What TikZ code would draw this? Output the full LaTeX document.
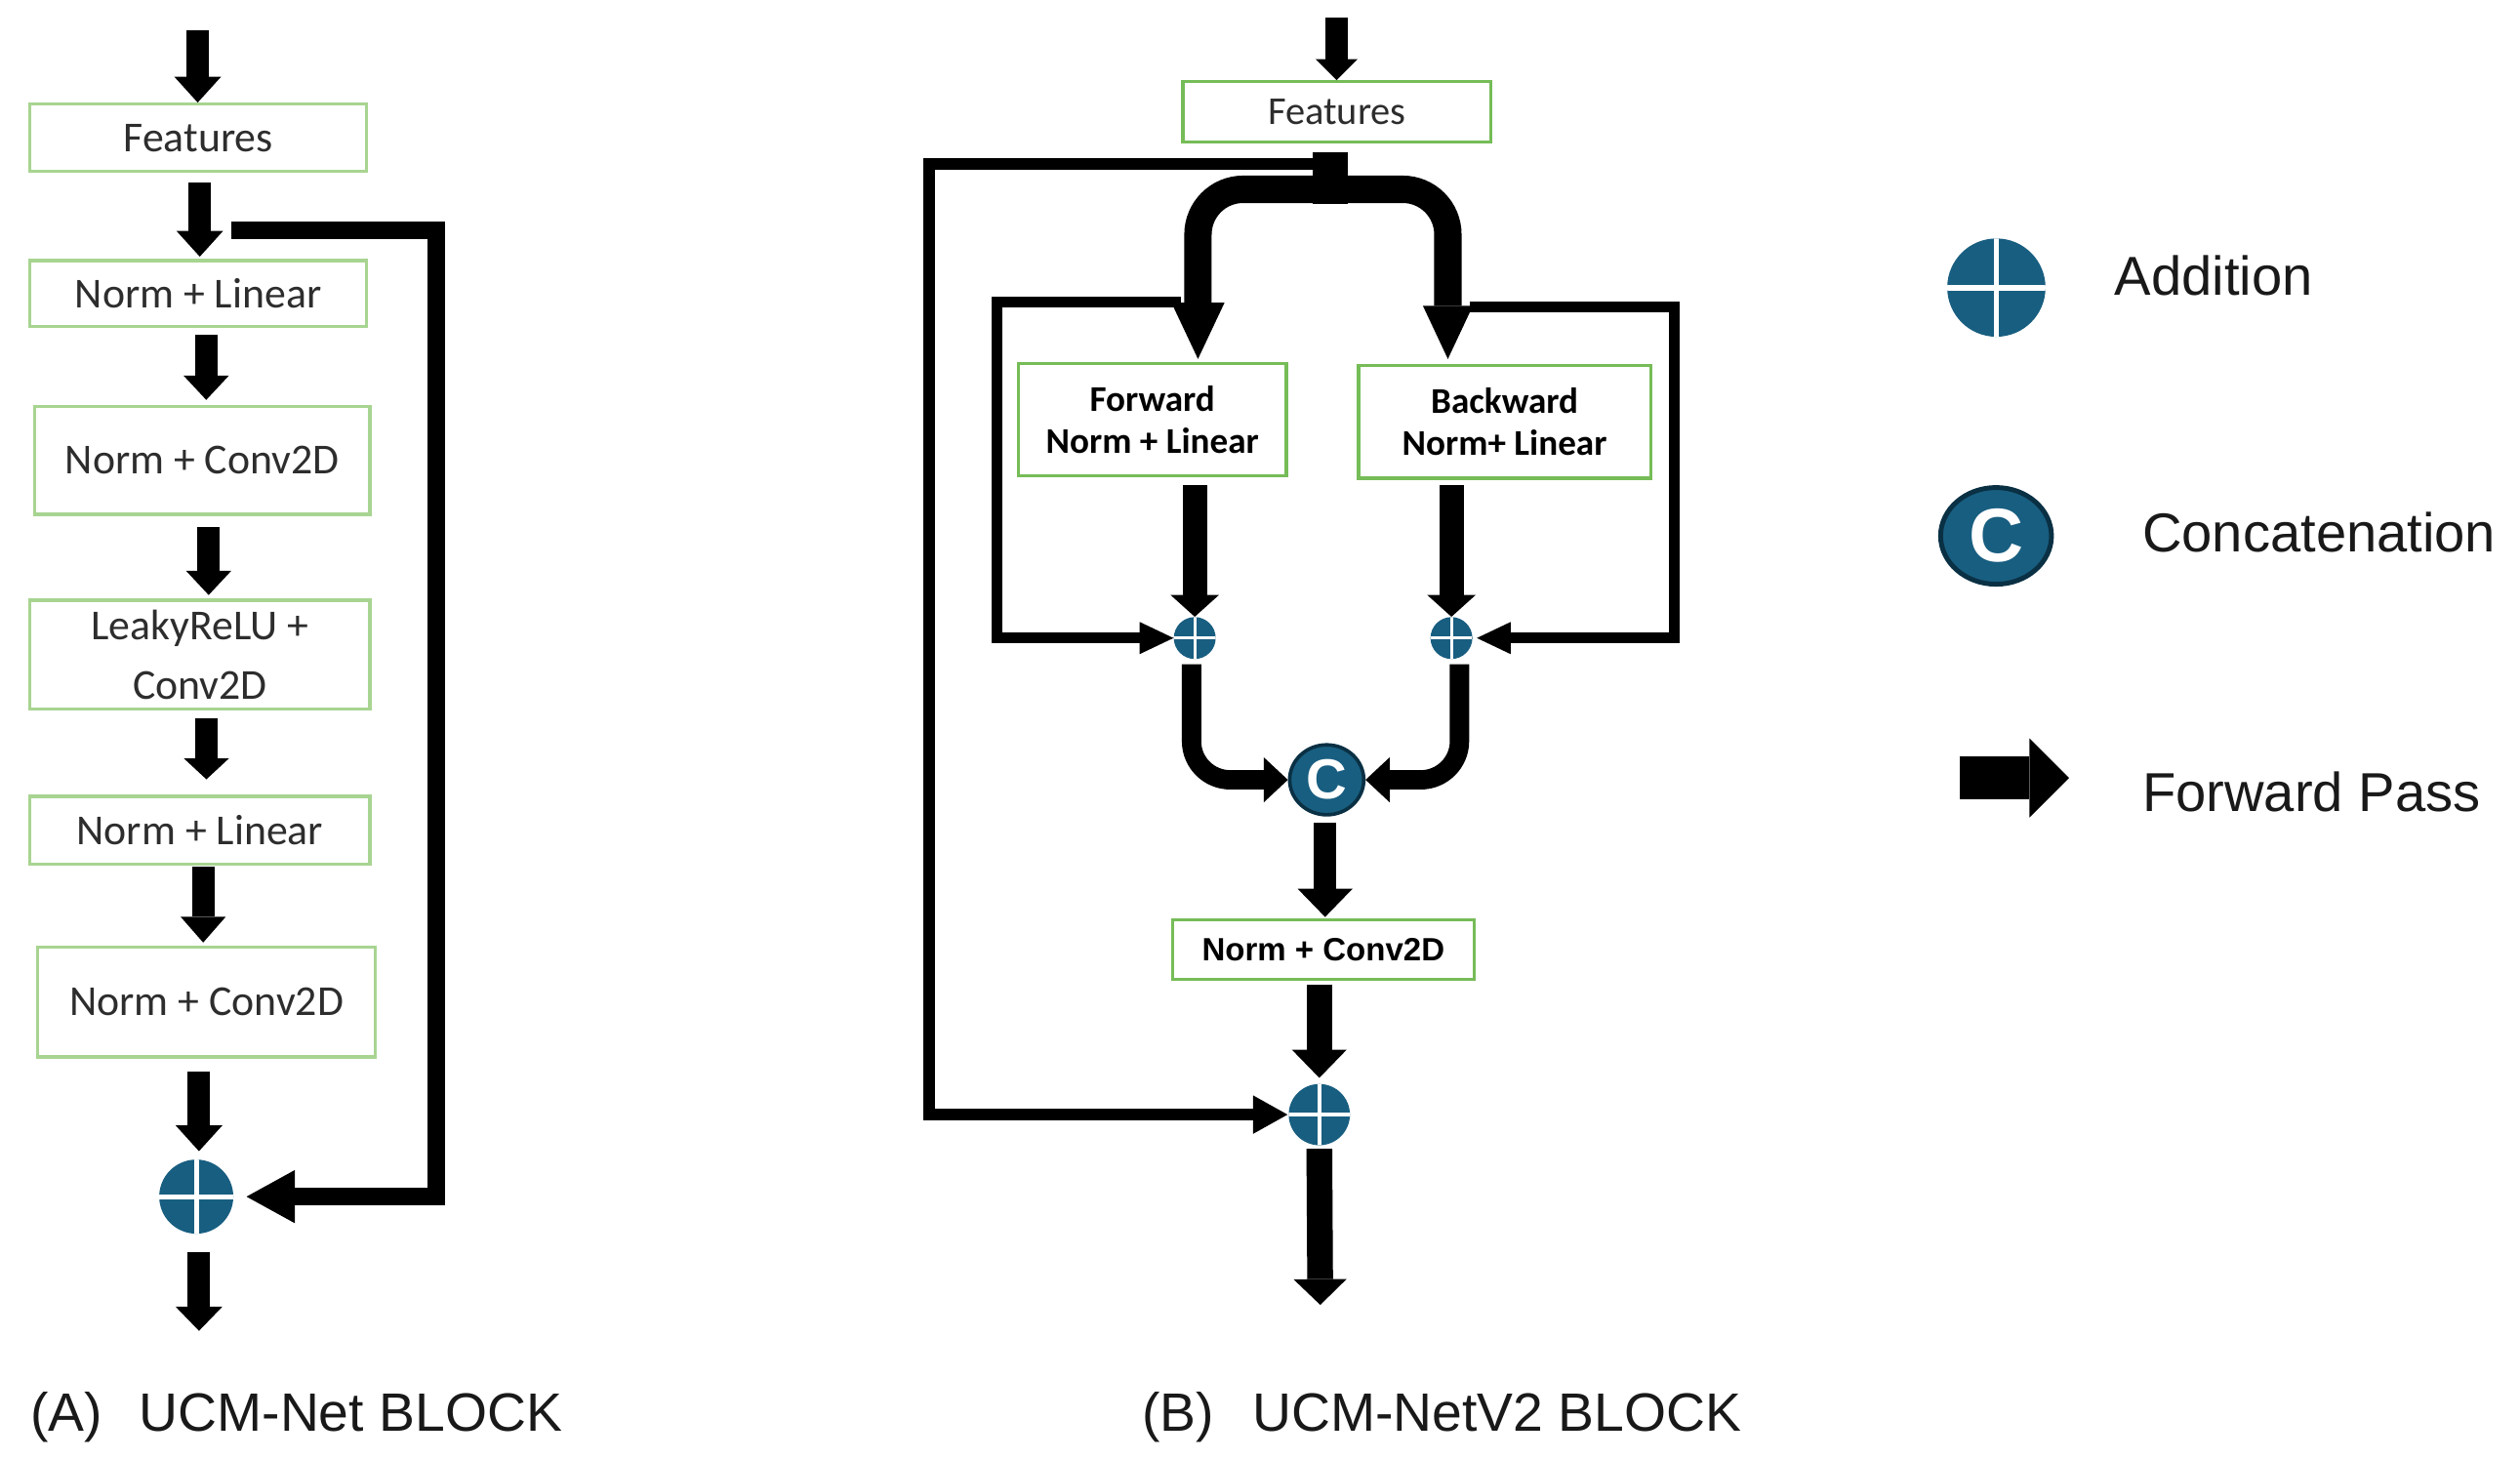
\documentclass[tikz,border=0pt]{standalone}
\usepackage{fontspec}
\setmainfont{Liberation Sans}
\newfontfamily\calfont{Carlito}
\newfontfamily\libfont{Liberation Sans}
\usetikzlibrary{arrows.meta,shapes.geometric}
\definecolor{teal1}{RGB}{24,94,128}
\definecolor{tealdk}{RGB}{10,48,68}
\definecolor{greenA}{RGB}{168,212,145}
\definecolor{greenB}{RGB}{118,188,88}
\definecolor{txtA}{RGB}{45,45,45}
\definecolor{txtL}{RGB}{25,25,25}
\tikzset{
  blk/.style n args={3}{line width=#1, -{Triangle[length=#2 0 0, width=#3 0 0, line width=0pt 0 0]}},
  boxA/.style={draw=greenA, line width=2pt, inner sep=0pt, text=txtA, align=center,
     font=\calfont\fontsize{26.5}{36.4}\selectfont},
  boxB/.style={draw=greenB, line width=2pt, inner sep=0pt, text=black, align=center},
  addn/.style 2 args={circle, fill=teal1, inner sep=0pt, minimum size=#1,
     path picture={\draw[white, line width=#2]
        (path picture bounding box.north) -- (path picture bounding box.south)
        (path picture bounding box.west) -- (path picture bounding box.east);}},
  concat/.style={ellipse, fill=teal1, draw=tealdk, inner sep=0pt, text=white},
  lbl/.style={anchor=base west, inner sep=0pt, text=txtL, font=\libfont\fontsize{34}{40}\selectfont},
}
\begin{document}
\begin{tikzpicture}[x=1pt, y=-1pt]
\useasboundingbox[fill=white] (0,0) rectangle (1564,905.6);

% ---------------- Panel A ----------------
\node[boxA, minimum width=208.7pt, minimum height=41.7pt] (fA)  at (123,85.5)  {Features};
\node[boxA, minimum width=208.7pt, minimum height=40.8pt] (nl1) at (123,182.2) {Norm + Linear};
\node[boxA, minimum width=208.2pt, minimum height=67pt]   (nc1) at (125.5,285.7) {Norm + Conv2D};
\node[boxA, minimum width=211pt,   minimum height=67.6pt] (lr)  at (124.1,406.4) {LeakyReLU +\\Conv2D};
\node[boxA, minimum width=211pt,   minimum height=42pt]   (nl2) at (124.1,515.2) {Norm + Linear};
\node[boxA, minimum width=209.8pt, minimum height=68pt]   (nc2) at (128.2,622) {Norm + Conv2D};
\node[addn={46pt}{3pt}] (addA) at (121.8,742.7) {};

\coordinate (inA) at (122.7,19);
\coordinate (outA) at (123.5,826);
\draw[blk={14pt}{16pt}{29pt}] (inA) -- (inA |- fA.north);
\draw[blk={14pt}{16pt}{29pt}, shorten <=6pt, shorten >=1.5pt] ([xshift=1pt]fA.south) -- ([xshift=1pt]fA.south |- nl1.north);
\draw[blk={14pt}{15pt}{28pt}, shorten <=4.4pt, shorten >=3pt] ([xshift=5pt]nl1.south) -- ([xshift=5pt]nl1.south |- nc1.north);
\draw[blk={14pt}{15pt}{28pt}, shorten <=7pt, shorten >=2.3pt] ([xshift=4pt]nc1.south) -- ([xshift=4pt]nc1.south |- lr.north);
\draw[blk={14pt}{13pt}{28pt}, shorten <=4.4pt, shorten >=9.5pt] ([xshift=4pt]lr.south) -- ([xshift=4pt]lr.south |- nl2.north);
\draw[blk={14pt}{16pt}{28pt}, shorten <=0.8pt, shorten >=2pt] ([xshift=2pt]nl2.south) -- ([xshift=2pt]nl2.south |- nc2.north);
\draw[blk={14pt}{16pt}{29pt}, shorten <=8pt, shorten >=5pt] ([xshift=-4.7pt]nc2.south) -- ([xshift=-4.7pt]nc2.south |- addA.north);
\draw[blk={14pt}{15pt}{29pt}, shorten <=11pt] ([xshift=1.7pt]addA.south) -- (outA);

\coordinate (skA) at (143.4,143);
\draw[blk={10.5pt}{30pt}{33pt}, shorten >=8pt] (skA) -| ([xshift=125.8pt]addA.east) -- (addA.east);

\node[lbl, font=\libfont\fontsize{33.5}{40}\selectfont] (capA) at (18.6,888) {(A)\hspace{23pt}UCM-Net BLOCK};

% ---------------- Panel B ----------------
\node[boxB, text=txtA, minimum width=191.3pt, minimum height=37.5pt,
      font=\calfont\fontsize{24.5}{28}\selectfont] (fB) at (829.8,69.5) {Features};
\node[boxB, minimum width=166.3pt, minimum height=69.9pt,
      font=\calfont\bfseries\fontsize{22.5}{26}\selectfont] (fw) at (715.2,260.5) {Forward\\Norm + Linear};
\node[boxB, minimum width=181.2pt, minimum height=69.7pt,
      font=\calfont\bfseries\fontsize{22.5}{26}\selectfont] (bw) at (933.8,261.9) {Backward\\Norm+ Linear};
\node[boxB, minimum width=187.1pt, minimum height=36.9pt,
      font=\libfont\bfseries\fontsize{20}{24}\selectfont] (ncB) at (821.3,589.3) {Norm + Conv2D};
\node[addn={26pt}{1.8pt}] (a1) at (741.5,396) {};
\node[addn={26pt}{1.8pt}] (a2) at (900.8,396) {};
\node[concat, line width=2.2pt, minimum width=46pt, minimum height=43.4pt,
      font=\libfont\bfseries\fontsize{35}{35}\selectfont] (cc) at (823.4,484) {C};
\node[addn={38pt}{2.5pt}] (a3) at (818.8,691.8) {};

\coordinate (inB) at (829.5,11);
\draw[blk={14pt}{13pt}{26pt}] (inB) -- (inB |- fB.north);

\coordinate (jn) at (825.7,117.5);
\coordinate (stemEnd) at (825.7,126.4);
\draw[line width=22pt, shorten <=5pt] (fB.south -| jn) -- (stemEnd);
\coordinate (spL) at (743.5,222.8);
\coordinate (spR) at (898.6,222.8);
\draw[blk={17pt}{35pt}{33pt}, rounded corners=28pt] (jn) -| (spL);
\draw[blk={17pt}{33pt}{31pt}, rounded corners=28pt] (jn) -| (spR);

\coordinate (lpL) at (733,187.5);
\coordinate (lpR) at (912,190.5);
\draw[blk={6.5pt}{21pt}{20pt}] (lpL) -| ([xshift=-109.5pt]a1.west) -- (a1.west);
\draw[blk={6.5pt}{21pt}{20pt}, shorten >=2.6pt] (lpR) -| ([xshift=125.2pt]a2.east) -- (a2.east);

\draw[blk={15pt}{13.5pt}{30pt}, shorten <=4.6pt] (a1 |- fw.south) -- (a1.north);
\draw[blk={15pt}{13.5pt}{30pt}, shorten <=3.3pt] (a2 |- bw.south) -- (a2.north);

\draw[blk={12pt}{15pt}{28pt}, rounded corners=24pt, shorten <=3pt] ([xshift=-2pt]a1.south) |- (cc.west);
\draw[blk={12pt}{15pt}{28pt}, rounded corners=24pt, shorten <=3pt] ([xshift=5pt]a2.south) |- (cc.east);

\draw[blk={14pt}{17.5pt}{34pt}, shorten <=3.6pt, shorten >=0.7pt] ([xshift=-1pt]cc.south) -- ([xshift=-1pt]cc.south |- ncB.north);
\draw[blk={16pt}{17.5pt}{34pt}, shorten <=2.3pt, shorten >=3.6pt] (a3 |- ncB.south) -- (a3.north);
\coordinate (outB) at (819.4,809.9);
\draw[blk={16pt}{16pt}{33pt}, shorten <=2pt] (a3.south) -- (outB);

\coordinate (skB) at (815,101.9);
\draw[blk={7.5pt}{21.5pt}{24pt}, shorten >=0.5pt] (skB) -| ([xshift=-222.8pt]a3.west) -- (a3.west);

\node[lbl, font=\libfont\fontsize{33.5}{40}\selectfont] (capB) at (708.5,888) {(B)\hspace{24pt}UCM-NetV2 BLOCK};

% ---------------- Legend ----------------
\node[addn={61pt}{3.5pt}] (lgA) at (1239,178.5) {};
\node[lbl] (lgAt) at (1312.3,183.1) {Addition};
\node[concat, line width=3pt, minimum width=68.8pt, minimum height=60pt,
      font=\libfont\bfseries\fontsize{47}{47}\selectfont] (lgC) at (1238.8,332.6) {C};
\node[lbl] (lgCt) at (1329.5,342.8) {Concatenation};
\coordinate (lgF1) at (1216,482.8);
\coordinate (lgF2) at (1284.1,482.8);
\draw[blk={26.4pt}{24.5pt}{49pt}] (lgF1) -- (lgF2);
\node[lbl] (lgFt) at (1329.5,503.9) {Forward Pass};
\end{tikzpicture}
\end{document}
